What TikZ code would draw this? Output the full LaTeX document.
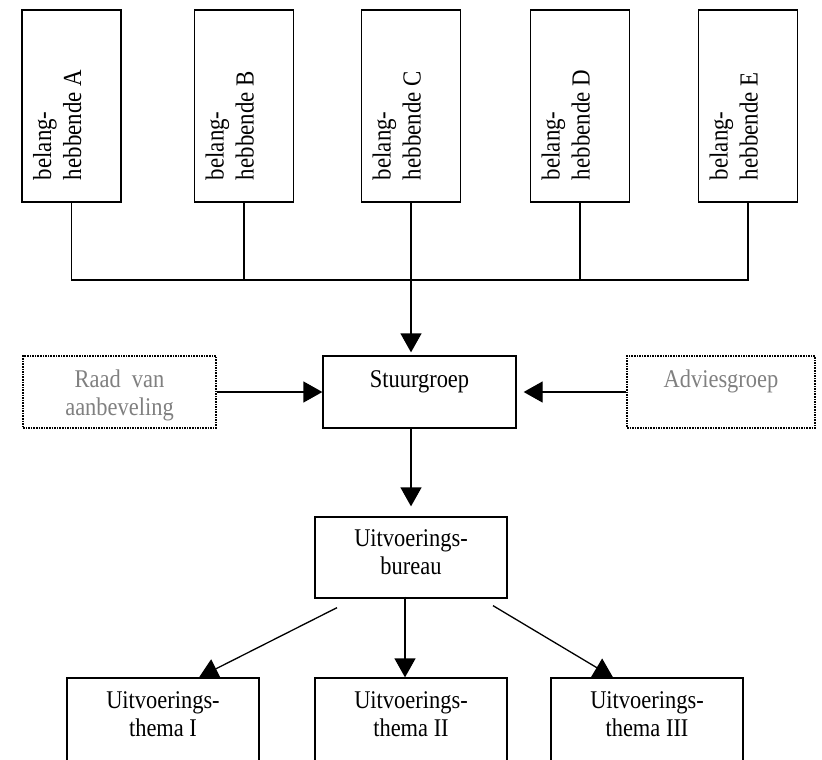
\documentclass[tikz,border=0pt]{standalone}
\usepackage{fontspec}
\setmainfont[FakeStretch=0.88]{Liberation Serif}
\usetikzlibrary{positioning, calc, arrows.meta}

\tikzset{
  blok/.style = {draw, line width=1.3pt, inner sep=0pt},
  stippelblok/.style = {draw, densely dotted, line width=1.6pt, inner sep=0pt, text=gray},
  lijn/.style = {line width=1.3pt},
  pijl/.style = {line width=1.3pt, -{Triangle[width=21pt,length=19pt]}}
}
% tekst bovenaan in een kader: breedte, hoogte, eerste basislijn, tekst
\newcommand{\kader}[4]{\parbox[c][#2][t]{#1}{\centering\rule{0pt}{#3}#4}}
% staande tekst voor de belanghebbenden
\newcommand{\staand}[1]{\parbox[c][99pt][t]{192pt}{\fontsize{26}{30}\selectfont\raggedright\leftskip=22pt\rule{0pt}{29pt}#1}}

\begin{document}
\begin{tikzpicture}[x=1pt, y=-1pt, font=\fontsize{25.5}{28}\selectfont]
    \useasboundingbox (0,0) rectangle (822,760);
    \clip (0,0) rectangle (822,760);
    % belanghebbenden
    \node[blok, rotate=90] (A) at (71.5,106) {\staand{belang-\\hebbende A}};
    \node[blok, rotate=90] (B) at (244,106) {\staand{belang-\\hebbende B}};
    \node[blok, rotate=90] (C) at (411,106) {\staand{belang-\\hebbende C}};
    \node[blok, rotate=90] (D) at (580,106) {\staand{belang-\\hebbende D}};
    \node[blok, rotate=90] (E) at (748,106) {\staand{belang-\\hebbende E}};
    \coordinate (bus) at (0,280);
    \draw[lijn] (A.west) -- (A.west |- bus) -- (E.west |- bus) -- (E.west);
    \foreach \n in {B,C,D}
        \draw[lijn] (\n.west) -- (\n.west |- bus);
    % middelste rij
    \node[blok] (stuur) at (419.5,392) {\kader{193pt}{72pt}{31pt}{Stuurgroep}};
    \node[stippelblok] (raad) at (119.5,392) {\kader{193pt}{72pt}{31pt}{Raad\ \ van\\aanbeveling}};
    \node[stippelblok] (advies) at (721,392) {\kader{188pt}{72pt}{31pt}{Adviesgroep}};
    \draw[pijl, shorten >=3pt] (C.west |- bus) -- (C.west |- stuur.north);
    \draw[pijl] (raad.east) -- (stuur.west);
    \draw[pijl, shorten >=7pt] (advies.west) -- (stuur.east);
    % uitvoering
    \node[blok] (bureau) at (411,557.5) {\kader{192pt}{81pt}{29pt}{Uitvoerings-\\bureau}};
    \draw[pijl, shorten >=10pt] (stuur.south -| bureau) -- (bureau.north);
    \node[blok] (th1) at (163,724) {\kader{192pt}{92pt}{30pt}{Uitvoerings-\\thema I}};
    \node[blok] (th2) at (411,724) {\kader{192pt}{92pt}{30pt}{Uitvoerings-\\thema II}};
    \node[blok] (th3) at (647,724) {\kader{192pt}{92pt}{30pt}{Uitvoerings-\\thema III}};
    \coordinate (vanL) at ($(bureau.south)+(-74,9)$);
    \coordinate (vanR) at ($(bureau.south)+(82,7)$);
    \draw[pijl] (vanL) -- ($(th1.north)+(36,0)$);
    \draw[pijl] ($(bureau.south)+(-6,-2)$) -- ($(th2.north)+(-6,0)$);
    \draw[pijl] (vanR) -- ($(th3.north)+(-34,0)$);
\end{tikzpicture}
\end{document}
